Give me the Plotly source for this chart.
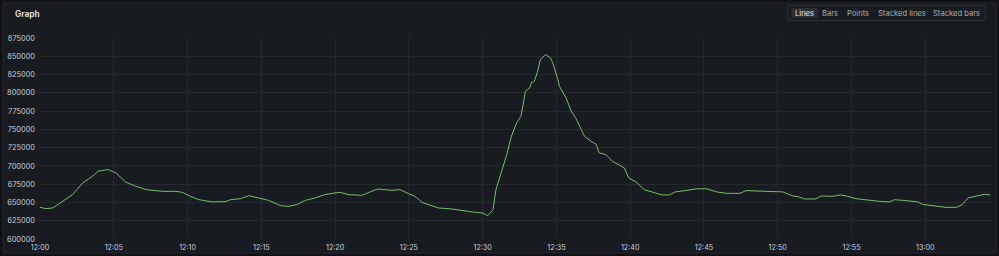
import pandas as pd
import plotly.graph_objects as go

# minutes after 12:00
minutes = [0.0, 0.42, 0.87, 1.55, 2.2, 2.9, 3.35, 3.7, 3.9, 4.6, 5.15, 5.8, 6.5, 7.2, 8.3, 9.2,
           9.65, 10.1, 10.77, 11.67, 12.6, 12.9, 13.6, 14.15, 14.8, 15.5, 16.3, 16.85, 17.4,
           18.0, 18.66, 19.3, 20.0, 20.35, 20.9, 21.8, 22.3, 22.9, 23.8, 24.4, 24.97, 25.4,
           25.9, 26.5, 27.0, 27.9, 28.6, 29.5, 30.0, 30.35, 30.7, 30.9, 31.25, 31.6, 31.95,
           32.3, 32.6, 32.9, 33.2, 33.3, 33.5, 33.7, 33.9, 34.25, 34.6, 34.75, 35.1, 35.2,
           35.65, 36.0, 36.3, 36.55, 36.9, 37.35, 37.7, 37.9, 38.35, 38.8, 39.25, 39.6, 39.9,
           40.4, 40.95, 41.55, 42.15, 42.65, 43.05, 43.85, 44.45, 45.15, 45.85, 46.55, 47.45,
           47.85, 48.75, 49.65, 50.35, 50.95, 51.45, 51.8, 52.55, 52.95, 53.75, 54.25, 54.75,
           55.3, 56.2, 56.9, 57.6, 57.9, 58.7, 59.5, 59.8, 60.7, 61.4, 62.1, 62.5, 62.9, 63.4,
           63.75, 64.0, 64.4]
values = [643300, 641500, 642500, 651500, 660700, 676700, 683500, 688000, 692600, 695000,
          690400, 678000, 672000, 667500, 665200, 665200, 663800, 659300, 653800, 650700,
          651100, 653800, 655200, 659300, 656200, 652900, 645600, 644700, 647000, 652900,
          656200, 660700, 663000, 663800, 660700, 659700, 663800, 668500, 666600, 667500,
          662100, 658400, 650100, 645600, 642500, 641100, 638800, 636400, 635600, 632000,
          640100, 667500, 690400, 713200, 740600, 758900, 768000, 802200, 806900, 813700,
          815900, 827400, 844700, 852500, 848000, 841100, 818200, 809000, 793200, 774800,
          765800, 754300, 740600, 733700, 729200, 717800, 715500, 706300, 701800, 697300,
          683600, 678000, 667500, 664400, 660300, 660300, 664400, 666600, 668500, 668900,
          664400, 662500, 662500, 666200, 665200, 665200, 664400, 659300, 657500, 654800,
          654800, 658900, 658400, 660300, 658400, 655200, 652900, 651500, 650700, 653800,
          652500, 650700, 647400, 644700, 643300, 643300, 647000, 656200, 658400, 659300,
          661100, 660300]

y_ticks = [600000, 625000, 650000, 675000, 700000, 725000, 750000, 775000, 800000, 825000, 850000, 875000]
x_tick_labels = ["12:00", "12:05", "12:10", "12:15", "12:20", "12:25", "12:30", "12:35",
                 "12:40", "12:45", "12:50", "12:55", "13:00"]
buttons = ["Lines", "Bars", "Points", "Stacked lines", "Stacked bars"]

base = pd.Timestamp("2024-01-01 12:00:00")
times = base + pd.to_timedelta(minutes, unit="m")
x_tick_vals = [pd.Timestamp("2024-01-01 " + s) for s in x_tick_labels]

W, H = 999, 256
L, R, T, B = 40, 7, 38, 17
PW, PH = W - L - R, H - T - B

def px(x):
    return (x - L) / PW

def py(y):
    return (H - B - y) / PH

FONT = "Inter, Roboto, sans-serif"
TXT = "#c7d0d9"

fig = go.Figure()
fig.add_trace(go.Scatter(x=times, y=values, mode="lines",
                         line=dict(color="#73bf69", width=1), hoverinfo="skip",
                         showlegend=False))

shapes = [
    dict(type="rect", xref="paper", yref="paper", x0=px(3), x1=px(996), y0=py(3), y1=py(253),
         fillcolor="#181b1f", line=dict(color="#24272d", width=1), layer="below"),
    dict(type="rect", xref="paper", yref="paper", x0=px(788), x1=px(985), y0=py(5.5), y1=py(20.5),
         fillcolor="#181b1f", line=dict(color="#2c3035", width=1), layer="below"),
    dict(type="rect", xref="paper", yref="paper", x0=px(791.5), x1=px(817.5), y0=py(8), y1=py(18),
         fillcolor="#2b2e34", line=dict(width=0), layer="below"),
]

annotations = [dict(text="<b>Graph</b>", xref="paper", yref="paper", x=px(13), y=py(14),
                    xanchor="left", yanchor="middle", showarrow=False,
                    font=dict(family=FONT, size=8.3, color="#d8d9da"))]
btn_x = [804, 830, 858.3, 901.7, 956.7]
for i, (name, bx) in enumerate(zip(buttons, btn_x)):
    annotations.append(dict(text=name, xref="paper", yref="paper", x=px(bx), y=py(13.3),
                            xanchor="center", yanchor="middle", showarrow=False,
                            font=dict(family=FONT, size=7.6,
                                      color="#e6e8ea" if i == 0 else "#a9adb3")))

fig.update_layout(
    width=W, height=H,
    margin=dict(l=L, r=R, t=T, b=B, pad=0),
    paper_bgcolor="#111217",
    plot_bgcolor="rgba(0,0,0,0)",
    shapes=shapes,
    annotations=annotations,
    xaxis=dict(range=[base, base + pd.Timedelta(minutes=64.52)],
               tickvals=x_tick_vals, ticktext=x_tick_labels,
               showgrid=True, gridcolor="#25282d", gridwidth=1,
               zeroline=False, showline=False, ticks="", automargin=False,
               tickfont=dict(family=FONT, size=7.2, color=TXT),
               ticklabelstandoff=3),
    yaxis=dict(range=[600000, 875000], tickvals=y_ticks,
               ticktext=[str(v) for v in y_ticks],
               showgrid=True, gridcolor="#25282d", gridwidth=1,
               zeroline=False, showline=False, ticks="", automargin=False,
               tickfont=dict(family=FONT, size=7.4, color=TXT),
               ticklabelstandoff=4),
)

fig.write_html("out.html")
